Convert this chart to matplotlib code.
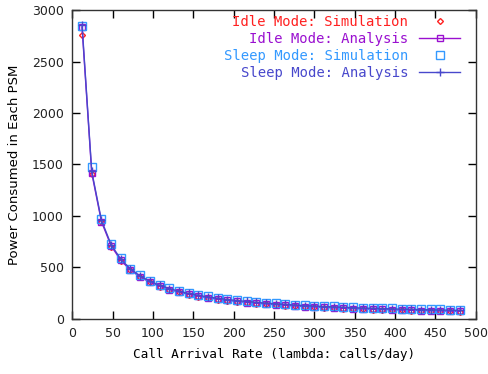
import matplotlib
matplotlib.use("Agg")
import matplotlib.pyplot as plt

# call arrival rate (calls/day)
rate = [12, 24, 36, 48, 60, 72, 84, 96, 108, 120, 132, 144, 156, 168, 180, 192,
        204, 216, 228, 240, 252, 264, 276, 288, 300, 312, 324, 336, 348, 360,
        372, 384, 396, 408, 420, 432, 444, 456, 468, 480]

idle_sim = [2760, 1405, 940, 700, 565, 470, 403, 352, 310, 280, 255, 232, 213, 198,
            185, 172, 163, 154, 146, 138, 131, 126, 119, 115, 110, 106, 101, 98,
            95, 91, 88, 86, 83, 80, 78, 76, 73, 71, 70, 68]
idle_ana = [2833, 1417, 944, 708, 567, 472, 405, 354, 315, 283, 258, 236, 218, 202,
            189, 177, 167, 157, 149, 142, 135, 129, 123, 118, 113, 109, 105, 101,
            98, 94, 91, 89, 86, 83, 81, 79, 77, 75, 73, 71]
sleep_sim = [2850, 1475, 965, 730, 585, 487, 420, 370, 330, 298, 272, 250, 232, 216,
             203, 191, 181, 171, 163, 156, 149, 143, 137, 132, 127, 123, 119, 115,
             112, 108, 105, 103, 100, 97, 95, 93, 91, 89, 87, 85]
sleep_ana = [2855, 1432, 958, 720, 578, 483, 415, 364, 325, 293, 267, 245, 227, 211,
             198, 186, 176, 167, 158, 151, 144, 138, 132, 127, 122, 118, 114, 110,
             107, 103, 100, 98, 95, 92, 90, 88, 86, 84, 82, 80]

c_idle_sim = "#ff2020"
c_idle_ana = "#9a10d0"
c_sleep_sim = "#3399ff"
c_sleep_ana = "#4848cc"

fig = plt.figure(figsize=(4.89, 3.74), dpi=100)
ax = fig.add_axes([0.148, 0.148, 0.825, 0.825])

ax.plot(rate, idle_sim, ls="none", marker="D", ms=3, mfc="none", mew=1,
        color=c_idle_sim, label="Idle Mode: Simulation")
ax.plot(rate, idle_ana, lw=1, marker="s", ms=5, mfc="none", mew=1,
        color=c_idle_ana, label="Idle Mode: Analysis")
ax.plot(rate, sleep_sim, ls="none", marker="s", ms=6, mfc="none", mew=1,
        color=c_sleep_sim, label="Sleep Mode: Simulation")
ax.plot(rate, sleep_ana, lw=1, marker="+", ms=6, mew=1,
        color=c_sleep_ana, label="Sleep Mode: Analysis")

ax.set_xlim(0, 500)
ax.set_ylim(0, 3000)
ax.set_xticks(range(0, 501, 50))
ax.set_yticks(range(0, 3001, 500))
ax.tick_params(direction="in", top=True, right=True, length=6, width=1,
               labelsize=9, pad=6, labelcolor="#222222")
for s in ax.spines.values():
    s.set_linewidth(1)
    s.set_color("#333333")

ax.set_xlabel("Call Arrival Rate (lambda: calls/day)", family="DejaVu Sans Mono",
              fontsize=9.2, labelpad=6)
ax.set_ylabel("Power Consumed in Each PSM", fontsize=9.5, labelpad=8)

leg = ax.legend(loc="upper right", bbox_to_anchor=(0.96, 0.985), frameon=False,
                markerfirst=False, prop={"family": "DejaVu Sans Mono", "size": 10},
                handlelength=2.9, handletextpad=0.8, labelspacing=0.22,
                borderaxespad=0, borderpad=0)
for t, c in zip(leg.get_texts(), [c_idle_sim, c_idle_ana, c_sleep_sim, c_sleep_ana]):
    t.set_color(c)

fig.savefig("out.png", dpi=100)
